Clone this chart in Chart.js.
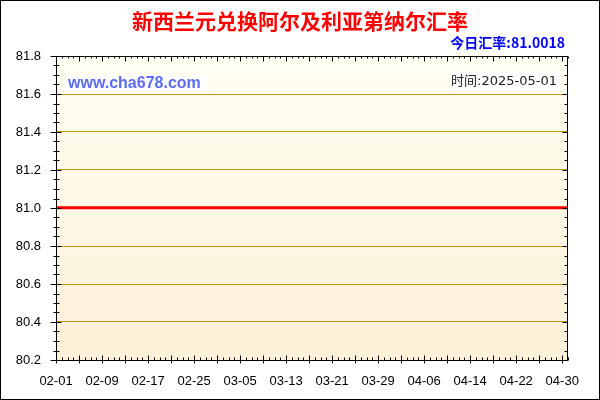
<!DOCTYPE html>
<html>
<head>
<meta charset="utf-8">
<title>新西兰元兑换阿尔及利亚第纳尔汇率</title>
<script src="https://cdn.jsdelivr.net/npm/chart.js@4/dist/chart.umd.min.js"></script>
<style>
  html, body { margin: 0; padding: 0; background: #fff; }
  #chart { display: block; }
</style>
</head>
<body>
<canvas id="chart" width="600" height="400"></canvas>
<script>
// 日期 (02-01 .. 05-01)
const dates = [
  '02-01', '02-02', '02-03', '02-04', '02-05', '02-06', '02-07', '02-08', '02-09', '02-10',
  '02-11', '02-12', '02-13', '02-14', '02-15', '02-16', '02-17', '02-18', '02-19', '02-20',
  '02-21', '02-22', '02-23', '02-24', '02-25', '02-26', '02-27', '02-28', '03-01', '03-02',
  '03-03', '03-04', '03-05', '03-06', '03-07', '03-08', '03-09', '03-10', '03-11', '03-12',
  '03-13', '03-14', '03-15', '03-16', '03-17', '03-18', '03-19', '03-20', '03-21', '03-22',
  '03-23', '03-24', '03-25', '03-26', '03-27', '03-28', '03-29', '03-30', '03-31', '04-01',
  '04-02', '04-03', '04-04', '04-05', '04-06', '04-07', '04-08', '04-09', '04-10', '04-11',
  '04-12', '04-13', '04-14', '04-15', '04-16', '04-17', '04-18', '04-19', '04-20', '04-21',
  '04-22', '04-23', '04-24', '04-25', '04-26', '04-27', '04-28', '04-29', '04-30', '05-01'
];

// 汇率 (flat at about 81.0018)
const rates = [
  81.0018, 81.0018, 81.0018, 81.0018, 81.0018, 81.0018, 81.0018, 81.0018, 81.0018, 81.0018,
  81.0018, 81.0018, 81.0018, 81.0018, 81.0018, 81.0018, 81.0018, 81.0018, 81.0018, 81.0018,
  81.0018, 81.0018, 81.0018, 81.0018, 81.0018, 81.0018, 81.0018, 81.0018, 81.0018, 81.0018,
  81.0018, 81.0018, 81.0018, 81.0018, 81.0018, 81.0018, 81.0018, 81.0018, 81.0018, 81.0018,
  81.0018, 81.0018, 81.0018, 81.0018, 81.0018, 81.0018, 81.0018, 81.0018, 81.0018, 81.0018,
  81.0018, 81.0018, 81.0018, 81.0018, 81.0018, 81.0018, 81.0018, 81.0018, 81.0018, 81.0018,
  81.0018, 81.0018, 81.0018, 81.0018, 81.0018, 81.0018, 81.0018, 81.0018, 81.0018, 81.0018,
  81.0018, 81.0018, 81.0018, 81.0018, 81.0018, 81.0018, 81.0018, 81.0018, 81.0018, 81.0018,
  81.0018, 81.0018, 81.0018, 81.0018, 81.0018, 81.0018, 81.0018, 81.0018, 81.0018, 81.0018
];

// y axis range and steps
const yMin = 80.2;
const yMax = 81.8;
const yStep = 0.2;
const yMinorStep = 0.05;

const titleText = '新西兰元兑换阿尔及利亚第纳尔汇率';
const todayText = '今日汇率:81.0018';
const siteText = 'www.cha678.com';
const timeText = '时间:2025-05-01';

const colors = {
  red: '#FF0000',
  blue: '#0000FF',
  site: '#5B6CF2',
  grid: '#C8960A',
  bgTop: '#FFFFF3',
  bgBottom: '#FDF0D8',
};

// plot background gradient
const backgroundPlugin = {
  id: 'background',
  beforeDraw(chart) {
    const { ctx, chartArea: a } = chart;
    ctx.save();
    ctx.fillStyle = '#fff';
    ctx.fillRect(0, 0, chart.width, chart.height);
    const g = ctx.createLinearGradient(0, a.top, 0, a.bottom);
    g.addColorStop(0, colors.bgTop);
    g.addColorStop(1, colors.bgBottom);
    ctx.fillStyle = g;
    ctx.fillRect(a.left, a.top, a.right - a.left, a.bottom - a.top);
    ctx.restore();
  },
};

// axis frame, tick marks and the header texts
const decorPlugin = {
  id: 'decor',
  afterDraw(chart) {
    const { ctx, chartArea: a } = chart;
    const xs = chart.scales.x;
    const ys = chart.scales.y;
    const L = Math.round(a.left) + 0.5;
    const R = Math.round(a.right) - 0.5;
    const T = Math.round(a.top) + 0.5;
    const B = Math.round(a.bottom) + 0.5;

    ctx.save();
    ctx.strokeStyle = '#000';
    ctx.lineWidth = 1;
    ctx.beginPath();
    ctx.moveTo(L, T); ctx.lineTo(R, T); ctx.lineTo(R, B); ctx.lineTo(L, B); ctx.lineTo(L, T);

    // x ticks, one per day, bigger every 4 days
    for (let i = 0; i < dates.length; i++) {
      const px = Math.round(xs.getPixelForValue(i)) + 0.5;
      const major = i % 4 === 0;
      ctx.moveTo(px, B + (major ? 3 : 0));
      ctx.lineTo(px, B - (major ? 5 : 3));
      ctx.moveTo(px, T);
      ctx.lineTo(px, T + (major ? 5 : 2));
    }

    // y ticks
    const n = Math.round((yMax - yMin) / yMinorStep);
    for (let k = 0; k <= n; k++) {
      const py = Math.round(ys.getPixelForValue(yMin + k * yMinorStep)) + 0.5;
      const major = k % 4 === 0;
      ctx.moveTo(L - (major ? 6 : 3), py);
      ctx.lineTo(L + (major ? 5 : 3), py);
      ctx.moveTo(R, py);
      ctx.lineTo(R - (major ? 5 : 3), py);
    }
    ctx.stroke();

    // outer frame
    ctx.strokeRect(0.5, 0.5, chart.width - 1, chart.height - 1);

    // header
    ctx.textBaseline = 'middle';
    ctx.textAlign = 'center';
    ctx.fillStyle = colors.red;
    ctx.font = 'bold 21px "Noto Sans CJK SC", sans-serif';
    ctx.fillText(titleText, 300, 21);

    ctx.textAlign = 'right';
    ctx.fillStyle = colors.blue;
    ctx.font = 'bold 14px "Noto Sans CJK SC", "Liberation Sans", sans-serif';
    ctx.fillText(todayText, 565, 43);

    // watermark boxes
    ctx.fillStyle = '#fff';
    ctx.fillRect(65, 75, 142, 17);
    ctx.fillRect(450, 73, 110, 18);

    ctx.textAlign = 'left';
    ctx.fillStyle = colors.site;
    ctx.font = 'bold 16px "Liberation Sans", Arial, sans-serif';
    ctx.fillText(siteText, 68, 84);

    ctx.textAlign = 'right';
    ctx.fillStyle = '#222';
    ctx.font = '13px "DejaVu Sans", "Noto Sans CJK SC", sans-serif';
    ctx.fillText(timeText, 557, 82);
    ctx.restore();
  },
};

new Chart(document.getElementById('chart'), {
  type: 'line',
  data: {
    labels: dates,
    datasets: [
      {
        data: rates,
        borderColor: colors.red,
        borderWidth: 3,
        pointRadius: 0,
        tension: 0,
        fill: false,
      },
    ],
  },
  options: {
    responsive: false,
    animation: false,
    devicePixelRatio: 1,
    layout: {
      padding: { top: 56, right: 32, left: 0, bottom: 0 },
    },
    plugins: {
      legend: { display: false },
      tooltip: { enabled: false },
      title: { display: false },
    },
    scales: {
      x: {
        offset: false,
        grid: { display: false, drawTicks: false },
        border: { display: false },
        ticks: {
          autoSkip: false,
          maxRotation: 0,
          padding: 14,
          color: '#000',
          font: { family: '"Liberation Sans", Arial, sans-serif', size: 13 },
          callback: function (value, index) {
            return index % 8 === 0 ? dates[index] : '';
          },
        },
        afterFit(scale) {
          scale.height = 40;
        },
      },
      y: {
        min: yMin,
        max: yMax,
        grid: { color: colors.grid, drawTicks: false },
        border: { display: false },
        ticks: {
          stepSize: yStep,
          padding: 15,
          color: '#000',
          font: { family: '"Liberation Sans", Arial, sans-serif', size: 13 },
          callback: function (value) {
            return Number(value).toFixed(1);
          },
        },
        afterFit(scale) {
          scale.width = 56;
        },
      },
    },
  },
  plugins: [backgroundPlugin, decorPlugin],
});
</script>
</body>
</html>
